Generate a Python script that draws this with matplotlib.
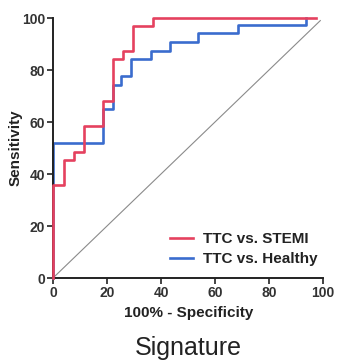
import matplotlib
matplotlib.use("Agg")
import matplotlib.pyplot as plt

plt.rcParams['font.family'] = ['Liberation Sans', 'DejaVu Sans']

# ROC step corners (100% - specificity, sensitivity)
stemi_fpr = [0, 0, 4, 7.8, 11.5, 18.5, 22.2, 25.9, 29.6, 37, 97.3]
stemi_tpr = [0, 35.8, 45.4, 48.6, 58.5, 68.2, 84.1, 87.3, 97, 100, 100]
healthy_fpr = [0, 0, 18.5, 22.2, 25.3, 29, 36.2, 43.2, 53.7, 68.5, 93.6]
healthy_tpr = [0, 51.8, 64.9, 74.2, 77.7, 84.1, 87.3, 90.6, 94.1, 97.3, 100]
ticks = [0, 20, 40, 60, 80, 100]
labels = ["TTC vs. STEMI", "TTC vs. Healthy"]

W, H = 337, 360
fig = plt.figure(figsize=(W/100, H/100), dpi=100)
ax = fig.add_axes([53/W, 1-278/H, 270/W, 260/H])

red = '#e5415f'
blue = '#3a6cce'
txt = '#222222'

ax.plot([0, 99], [0, 99], color='#8a8a8a', lw=0.8, zorder=1)
ax.step(healthy_fpr, healthy_tpr, where='post', color=blue, lw=1.9, label=labels[1], zorder=2, clip_on=False)
ax.step(stemi_fpr, stemi_tpr, where='post', color=red, lw=1.9, label=labels[0], zorder=3, clip_on=False)

ax.set_xlim(0, 100)
ax.set_ylim(0, 100)
ax.set_xticks(ticks)
ax.set_yticks(ticks)
ax.tick_params(direction='out', length=4, width=1.2, colors=txt, labelsize=10, pad=1.5)
for s in ['top', 'right']:
    ax.spines[s].set_visible(False)
for s in ['left', 'bottom']:
    ax.spines[s].set_linewidth(1.4)
    ax.spines[s].set_color(txt)
for lab in ax.get_xticklabels() + ax.get_yticklabels():
    lab.set_fontweight('bold')
    lab.set_color('#333333')

ax.set_xlabel("100% - Specificity", fontsize=11, fontweight='bold', color=txt)
ax.xaxis.set_label_coords(0.502, -0.108)
ax.set_ylabel("Sensitivity", fontsize=11, fontweight='bold', color=txt)
ax.yaxis.set_label_coords(-0.111, 0.5)

h, l = ax.get_legend_handles_labels()
leg = ax.legend(h[::-1], l[::-1], loc='center left', bbox_to_anchor=(170/W, 1-249/H),
                bbox_transform=fig.transFigure, borderpad=0, borderaxespad=0,
                frameon=False, fontsize=11, handlelength=1.5, handletextpad=0.65,
                labelspacing=0.4)
for t in leg.get_texts():
    t.set_fontweight('bold')
    t.set_color(txt)

fig.text(188/W, 1-348/H, "Signature", ha='center', va='center', fontsize=18, color=txt)

fig.savefig("out.png", dpi=100)
